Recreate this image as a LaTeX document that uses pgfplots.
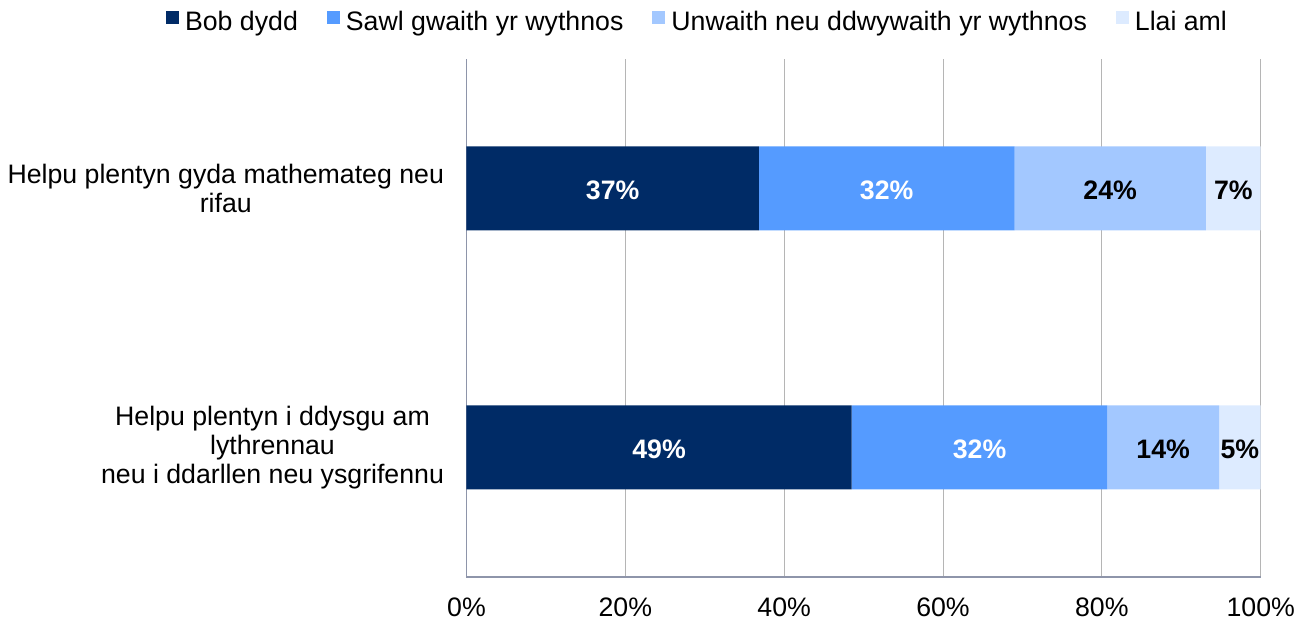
\documentclass[border=0pt]{standalone}
\usepackage{pgfplots}
\pgfplotsset{compat=1.18}
\usepackage{pgfplotstable}
\usepackage{fontspec}
\setmainfont{Liberation Sans}
\definecolor{cA}{HTML}{002B66}
\definecolor{cB}{HTML}{559BFF}
\definecolor{cC}{HTML}{A3C8FF}
\definecolor{cD}{HTML}{DDEBFF}
\definecolor{axc}{HTML}{8E95AA}
\definecolor{grc}{HTML}{B5B5B5}
\pgfplotsset{sq/.style={legend image code/.code={\fill[##1] (0pt,-2pt) rectangle (13pt,11pt);}}}

\pgfplotstableread{
y x label
0 48.5 49
1 36.8 37
}\tA
\pgfplotstableread{
y x label
0 32.2 32
1 32.2 32
}\tB
\pgfplotstableread{
y x label
0 14.05 14
1 24.1 24
}\tC
\pgfplotstableread{
y x label
0 5.25 5
1 6.9 7
}\tD

\begin{document}
\begin{tikzpicture}[font=\fontsize{26.7}{29}\selectfont]
\useasboundingbox (0,0) rectangle (1309pt,623pt);
\begin{axis}[
  at={(466.5pt,46pt)}, anchor=south west,
  scale only axis, width=794.2pt, height=518pt,
  xbar stacked, bar width=84pt,
  xmin=0, xmax=100, ymin=-0.5, ymax=1.5,
  xtick={0,20,40,60,80,100},
  xticklabel={\pgfmathprintnumber[assume math mode=true]{\tick}\%},
  ytick={0,1},
  yticklabels={{Helpu plentyn i ddysgu am\\lythrennau\\neu i ddarllen neu ysgrifennu},{Helpu plentyn gyda mathemateg neu\\rifau}},
  yticklabel style={align=center, xshift=-19pt},
  xticklabel style={yshift=-17pt},
  ticklabel style={font=\fontsize{26.7}{29}\selectfont},
  major tick length=0pt,
  axis x line*=bottom, axis y line*=left,
  axis line style={draw=axc, line width=1.3pt},
  xmajorgrids, major grid style={draw=grc, line width=1pt},
  point meta=explicit symbolic,
  nodes near coords={\pgfplotspointmeta\%},
  nodes near coords style={font=\fontsize{26.7}{29}\selectfont\bfseries, anchor=center, yshift=-2pt},
  legend columns=-1,
  legend style={draw=none, fill=none, at={(0.2909,1.0714)}, anchor=center,
    font=\fontsize{26.7}{29}\selectfont,
    /tikz/every odd column/.append style={column sep=4pt},
    /tikz/every even column/.append style={column sep=27pt}},
]
\addplot[sq, fill=cA, draw=none, nodes near coords style={text=white}] table[x=x, y=y, meta=label]{\tA};
\addlegendentry{Bob dydd}
\addplot[sq, fill=cB, draw=none, nodes near coords style={text=white}] table[x=x, y=y, meta=label]{\tB};
\addlegendentry{Sawl gwaith yr wythnos}
\addplot[sq, fill=cC, draw=none, nodes near coords style={text=black}] table[x=x, y=y, meta=label]{\tC};
\addlegendentry{Unwaith neu ddwywaith yr wythnos}
\addplot[sq, fill=cD, draw=none, nodes near coords style={text=black}] table[x=x, y=y, meta=label]{\tD};
\addlegendentry{Llai aml}
\end{axis}
\end{tikzpicture}
\end{document}
